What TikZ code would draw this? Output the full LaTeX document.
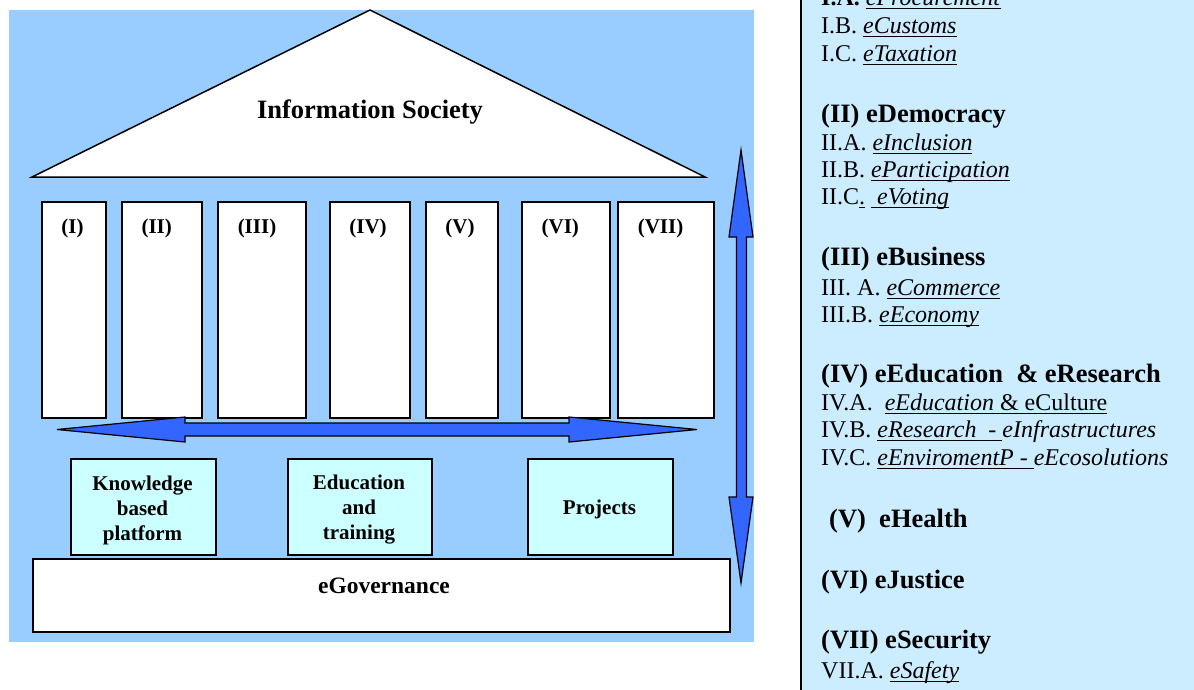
\documentclass[tikz,border=0pt]{standalone}
\usepackage{fontspec}
\setmainfont{Liberation Serif}
\definecolor{bgblue}{HTML}{99CCFF}
\definecolor{panelblue}{HTML}{CCECFF}
\definecolor{boxcyan}{HTML}{CCFFFF}
\definecolor{arrowblue}{HTML}{3366FF}
\newsavebox\ulbox
\newcommand\myul[1]{\sbox\ulbox{#1}\rlap{\rule[-4pt]{\wd\ulbox}{1.3pt}}\usebox\ulbox}
\tikzset{
  pillar/.style={draw=black, line width=1.5pt, fill=white, inner sep=0pt, anchor=north west, minimum height=216pt},
  plabel/.style={inner sep=0pt, anchor=base, font=\fontsize{21}{25}\selectfont\bfseries},
  lbox/.style={draw=black, line width=1.5pt, fill=boxcyan, inner sep=0pt, anchor=north west, minimum width=145pt, minimum height=96pt},
  ltext/.style={inner sep=0pt, align=center, font=\fontsize{21}{25}\selectfont\bfseries},
  blockarrow/.style={draw=black, line width=1.2pt, fill=arrowblue, line join=miter},
  rtext/.style={inner sep=0pt, anchor=base west, font=\fontsize{24}{28}\selectfont},
  rhead/.style={inner sep=0pt, anchor=base west, font=\fontsize{26.5}{30}\selectfont\bfseries},
}
\begin{document}
\begin{tikzpicture}[x=1pt,y=-1pt]
\useasboundingbox (0,0) rectangle (1194,689);
\clip (0,0) rectangle (1194,689);
% background
\fill[bgblue] (9,10) rectangle (754,642);
% roof
\draw[line width=1.5pt, fill=white, line join=miter] (370,10) -- (705,177) -- (32,177) -- cycle;
\node[inner sep=0pt, anchor=base, font=\fontsize{26.5}{30}\selectfont\bfseries] (is) at (370,118) {Information Society};
% pillars
\node[pillar, minimum width=64pt] (p1) at (41,201) {};
\node[pillar, minimum width=80pt] (p2) at (121,201) {};
\node[pillar, minimum width=88pt] (p3) at (217,201) {};
\node[pillar, minimum width=80pt] (p4) at (329,201) {};
\node[pillar, minimum width=72pt] (p5) at (425,201) {};
\node[pillar, minimum width=88pt] (p6) at (521,201) {};
\node[pillar, minimum width=96pt] (p7) at (617,201) {};
\node[plabel] (l1) at (72.5,233) {(I)};
\node[plabel] (l2) at (156.7,233) {(II)};
\node[plabel] (l3) at (257,233) {(III)};
\node[plabel] (l4) at (368,233) {(IV)};
\node[plabel] (l5) at (460,233) {(V)};
\node[plabel] (l6) at (560.3,233) {(VI)};
\node[plabel] (l7) at (660.5,233) {(VII)};
% horizontal double arrow
\draw[blockarrow] (57,429.5) -- (185,417) -- (185,423) -- (569,423) -- (569,417) -- (697,429.5)
  -- (569,442) -- (569,436) -- (185,436) -- (185,442) -- cycle;
% vertical double arrow
\draw[blockarrow] (741,150) -- (753,237) -- (746.5,237) -- (746.5,497) -- (753,497) -- (741,583)
  -- (729,497) -- (736.5,497) -- (736.5,237) -- (729,237) -- cycle;
% lower boxes
\node[lbox] (kb) at (70,458) {};
\node[lbox, minimum width=144pt] (et) at (287,458) {};
\node[lbox] (pr) at (527,458) {};
\node[ltext] (kbt) at (142.5,510) {Knowledge\\based\\platform};
\node[ltext] (ett) at (359,510) {Education\\and\\training};
\node[ltext] (prt) at (599.5,509) {Projects};
% eGovernance
\node[draw=black, line width=1.5pt, fill=white, inner sep=0pt, anchor=north west, minimum width=697pt, minimum height=73pt] (eg) at (32,558) {};
\node[inner sep=0pt, anchor=base, font=\fontsize{23.5}{28}\selectfont\bfseries] (egt) at (384,593) {eGovernance};
% right panel
\fill[panelblue] (802,-2) rectangle (1196,691);
\draw[line width=2pt] (801,-2) -- (801,691);
\node[rtext] (r1) at (821,5) {\textbf{I.A.} \myul{\textit{eProcurement}}};
\node[rtext] (r2) at (821,33) {I.B. \myul{\textit{eCustoms}}};
\node[rtext] (r3) at (821,61) {I.C. \myul{\textit{eTaxation}}};
\node[rhead] (h2) at (821,122) {(II) eDemocracy};
\node[rtext] (r4) at (821,150) {II.A. \myul{\textit{eInclusion}}};
\node[rtext] (r5) at (821,177) {II.B. \myul{\textit{eParticipation}}};
\node[rtext] (r6) at (821,204) {II.C\myul{.}\ \myul{\ \textit{eVoting}}};
\node[rhead] (h3) at (821,265) {(III) eBusiness};
\node[rtext] (r7) at (821,295) {III. A. \myul{\textit{eCommerce}}};
\node[rtext] (r8) at (821,322) {III.B. \myul{\textit{eEconomy}}};
\node[rhead] (h4) at (821,382) {(IV) eEducation\ \ \& eResearch};
\node[rtext] (r9) at (821,410) {IV.A.\ \ \myul{\textit{eEducation} \& eCulture}};
\node[rtext] (r10) at (821,437) {IV.B. \myul{\textit{eResearch\ \ -\ }}\textit{eInfrastructures}};
\node[rtext] (r11) at (821,465) {IV.C. \myul{\textit{eEnviromentP -\ }}\textit{eEcosolutions}};
\node[rhead] (h5) at (829,527) {(V)\ \ eHealth};
\node[rhead] (h6) at (821,588) {(VI) eJustice};
\node[rhead] (h7) at (821,648) {(VII) eSecurity};
\node[rtext] (r12) at (821,678) {VII.A. \myul{\textit{eSafety}}};
\end{tikzpicture}
\end{document}
